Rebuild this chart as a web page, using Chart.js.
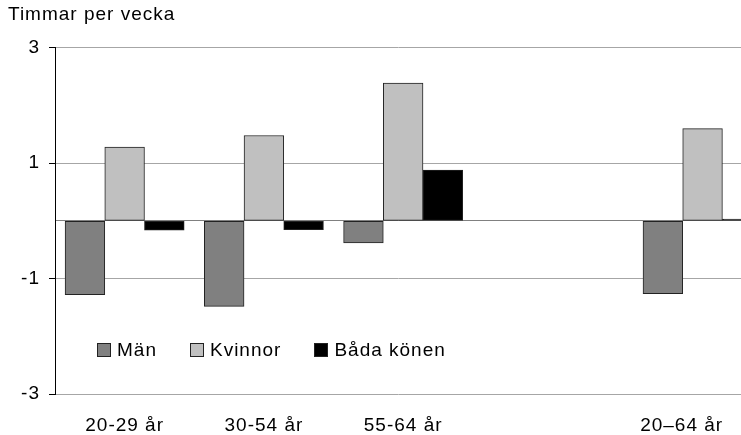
<!DOCTYPE html>
<html>
<head>
<meta charset="utf-8">
<script src="https://cdn.jsdelivr.net/npm/chart.js@4"></script>
<style>
  body { margin: 0; background: #fff; }
  #wrap { position: relative; width: 741px; height: 435px; overflow: hidden; }
  #legend {
    position: absolute; left: 97px; top: 339px;
    display: flex; gap: 33px;
    font: 19px "Liberation Sans", Arial, sans-serif; color: #000;
    letter-spacing: 1px;
  }
  .item { display: flex; align-items: center; }
  .box { width: 14px; height: 14px; box-sizing: border-box; border: 1px solid #222; margin-right: 6px; }
</style>
</head>
<body>
<div id="wrap">
  <canvas id="myChart" width="741" height="435"></canvas>
  <div id="legend"></div>
</div>
<script>
// data
const categories = ['20-29 år', '30-54 år', '55-64 år', '20–64 år'];
const men   = [-1.28, -1.48, -0.38, -1.26];
const women = [ 1.28,  1.48,  2.39,  1.60];
const both  = [-0.16, -0.15,  0.88,  0.03];
const seriesNames = ['Män', 'Kvinnor', 'Båda könen'];
const yTicks = [-3, -1, 1, 3];

// where each group sits on the x axis (4th slot is left empty)
const labelSlot = [0, 1, 2, 4];
const barSlot = [0, 1, 2, 4.15];

const font = { family: '"Liberation Sans", Arial, sans-serif', size: 19 };
const colors = ['#808080', '#c0c0c0', '#000000'];

function pts(values) {
  return values.map((v, i) => ({ x: barSlot[i], y: v }));
}

// the original text is a bit wider than Arial, spread the letters slightly
const spacing = {
  id: 'spacing',
  beforeUpdate: c => { c.ctx.letterSpacing = '1px'; },
  beforeDraw: c => { c.ctx.letterSpacing = '1px'; }
};

const ctx = document.getElementById('myChart');
const chart = new Chart(ctx, {
  type: 'bar',
  data: {
    datasets: [men, women, both].map((vals, i) => ({
      label: seriesNames[i],
      data: pts(vals),
      backgroundColor: colors[i],
      borderColor: '#222',
      borderWidth: 1,
      borderSkipped: false,
      barThickness: 39.7
    }))
  },
  options: {
    responsive: false,
    animation: false,
    layout: { padding: { left: 8, right: 0, top: 0, bottom: 0 } },
    plugins: {
      legend: { display: false },
      tooltip: { enabled: false },
      title: {
        display: true,
        text: 'Timmar per vecka',
        align: 'start',
        color: '#000',
        font: { ...font, weight: 'normal' },
        padding: { top: 3, bottom: 22 }
      }
    },
    scales: {
      x: {
        type: 'linear',
        min: -0.5,
        max: 4.426,
        offset: false,
        grid: { display: false },
        border: { display: false },
        afterBuildTicks: s => { s.ticks = labelSlot.map(v => ({ value: v })); },
        afterFit: s => { s.height = 41; },
        ticks: {
          callback: v => categories[labelSlot.indexOf(v)],
          autoSkip: false,
          maxRotation: 0,
          padding: 12,
          color: '#000',
          font: font
        }
      },
      y: {
        min: -3,
        max: 3,
        afterFit: s => { s.width = 47; },
        border: { color: '#000', width: 1 },
        grid: {
          tickLength: 6,
          color: c => c.tick.value === 0 ? '#808080' : (yTicks.includes(c.tick.value) ? '#a6a6a6' : 'rgba(0,0,0,0)'),
          tickColor: c => yTicks.includes(c.tick.value) ? '#000' : 'rgba(0,0,0,0)'
        },
        ticks: {
          stepSize: 1,
          padding: 9,
          color: '#000',
          font: font,
          callback: v => yTicks.includes(v) ? v : ''
        }
      }
    }
  },
  plugins: [spacing]
});

// legend inside the plot
const legend = document.getElementById('legend');
chart.data.datasets.forEach(ds => {
  const item = document.createElement('div');
  item.className = 'item';
  const box = document.createElement('span');
  box.className = 'box';
  box.style.background = ds.backgroundColor;
  const txt = document.createElement('span');
  txt.textContent = ds.label;
  item.appendChild(box);
  item.appendChild(txt);
  legend.appendChild(item);
});
</script>
</body>
</html>
